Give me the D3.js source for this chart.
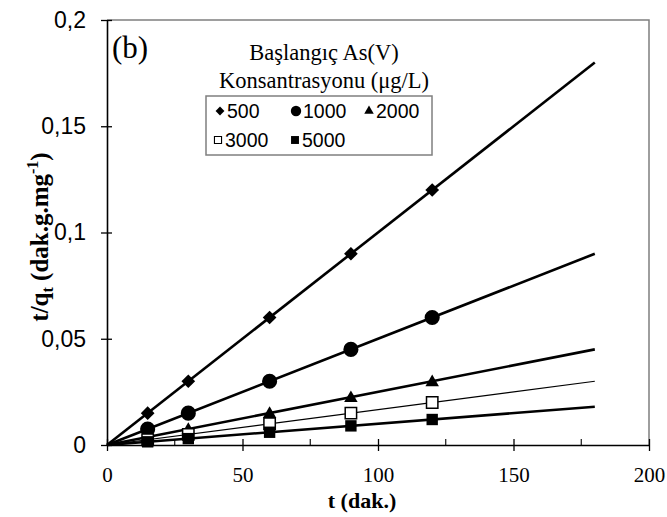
<!DOCTYPE html>
<html>
<head>
<meta charset="utf-8">
<script src="https://cdn.jsdelivr.net/npm/d3@7"></script>
<style>
  html, body { margin: 0; padding: 0; background: #fff; }
  svg { display: block; }
</style>
</head>
<body>
<svg id="chart" width="667" height="517"></svg>
<script>
// Pseudo-second-order kinetics: t/qt versus t for each initial As(V) concentration
const times = [15, 30, 60, 90, 120];
const lineEnd = 180;
const series = ["500", "1000", "2000", "3000", "5000"];
const values500 = [0.015, 0.03, 0.06, 0.09, 0.12];
const values1000 = [0.0075, 0.015, 0.03, 0.045, 0.06];
const values2000 = [0.00375, 0.0075, 0.015, 0.0225, 0.03];
const values3000 = [0.0025, 0.005, 0.01, 0.015, 0.02];
const values5000 = [0.0015, 0.003, 0.006, 0.009, 0.012];
// fitted line values at t = 180
const fitEnd = [0.18, 0.09, 0.045, 0.03, 0.018];
const xTicks = [0, 50, 100, 150, 200];
const xMinorTicks = [25, 75, 125, 175];
const yTicks = [0, 0.05, 0.1, 0.15, 0.2];
const yTickLabels = ["0", "0,05", "0,1", "0,15", "0,2"];

const allValues = [values500, values1000, values2000, values3000, values5000];
const markers = ["diamond", "circle", "triangle", "openSquare", "square"];
const lineWidths = [2.6, 2.6, 2.6, 1.2, 2.6];

const svg = d3.select("#chart");
const plotLeft = 107, plotRight = 649, plotTop = 20, plotBottom = 445;

const x = d3.scaleLinear().domain([0, 200]).range([plotLeft, plotRight]);
const y = d3.scaleLinear().domain([0, 0.2]).range([plotBottom, plotTop]);

// frame (top and right)
svg.append("path")
  .attr("d", `M${plotLeft},${plotTop}H${plotRight}V${plotBottom}`)
  .attr("fill", "none").attr("stroke", "#7f7f7f").attr("stroke-width", 1.5);

function symbolPath(kind) {
  if (kind === "diamond") return d3.symbol().type(d3.symbolDiamond2).size(120)();
  if (kind === "circle") return d3.symbol().type(d3.symbolCircle).size(180)();
  if (kind === "triangle") return d3.symbol().type(d3.symbolTriangle2).size(130)();
  return d3.symbol().type(d3.symbolSquare2).size(165)();
}

const plot = svg.append("g");
allValues.forEach((vals, i) => {
  const g = plot.append("g");
  g.append("line")
    .attr("x1", x(0)).attr("y1", y(0))
    .attr("x2", x(lineEnd)).attr("y2", y(fitEnd[i]))
    .attr("stroke", "#000").attr("stroke-width", lineWidths[i]);
  const kind = markers[i];
  g.selectAll("path.m").data(vals).join("path")
    .attr("class", "m")
    .attr("d", symbolPath(kind))
    .attr("transform", (d, j) => {
      const dy = kind === "triangle" ? 1 : 0;
      return `translate(${x(times[j])},${y(d) + dy})`;
    })
    .attr("fill", kind === "openSquare" ? "#fff" : "#000")
    .attr("stroke", "#000")
    .attr("stroke-width", kind === "openSquare" ? 1.5 : 0);
});

// axes
const xAxisG = svg.append("g").attr("transform", `translate(0,${plotBottom})`);
xAxisG.call(d3.axisBottom(x).tickValues(xTicks).tickSize(6).tickFormat(d3.format("d")).tickSizeOuter(0));
xAxisG.select(".domain").attr("stroke", "#000").attr("stroke-width", 1.6);
xAxisG.selectAll(".tick line").attr("y1", -6).attr("y2", 6).attr("stroke-width", 1.3);
xAxisG.selectAll(".tick text")
  .attr("y", 22).attr("dy", "0.71em")
  .attr("font-family", "'Liberation Serif', 'Times New Roman', serif")
  .attr("font-size", 21).attr("fill", "#000");
xAxisG.selectAll(".minor").data(xMinorTicks).join("line")
  .attr("class", "minor")
  .attr("x1", d => x(d)).attr("x2", d => x(d))
  .attr("y1", 0).attr("y2", -6)
  .attr("stroke", "#000").attr("stroke-width", 1.1);

const yAxisG = svg.append("g").attr("transform", `translate(${plotLeft},0)`);
yAxisG.call(d3.axisLeft(y).tickValues(yTicks).tickSize(6)
  .tickFormat((d, i) => yTickLabels[i]).tickSizeOuter(0));
yAxisG.select(".domain").attr("stroke", "#000").attr("stroke-width", 1.6);
yAxisG.selectAll(".tick line").attr("x1", -6).attr("x2", 5).attr("stroke-width", 1.3);
yAxisG.selectAll(".tick text")
  .attr("x", -21)
  .attr("font-family", "'Liberation Sans', Arial, sans-serif")
  .attr("font-size", 23).attr("fill", "#000");

// axis titles
svg.append("text")
  .attr("x", 362).attr("y", 508)
  .attr("text-anchor", "middle")
  .attr("font-family", "'Liberation Serif', 'Times New Roman', serif")
  .attr("font-weight", "bold").attr("font-size", 22)
  .text("t (dak.)");

const yTitle = svg.append("text")
  .attr("transform", "translate(48,237) rotate(-90)")
  .attr("text-anchor", "middle")
  .attr("font-family", "'Liberation Serif', 'Times New Roman', serif")
  .attr("font-weight", "bold").attr("font-size", 25);
yTitle.append("tspan").text("t/q");
yTitle.append("tspan").attr("font-size", 16).attr("dy", 5).text("t");
yTitle.append("tspan").attr("dy", -5).text(" (dak.g.mg");
yTitle.append("tspan").attr("font-size", 16).attr("dy", -10).text("-1");
yTitle.append("tspan").attr("dy", 10).text(")");

// panel label
svg.append("text")
  .attr("x", 112).attr("y", 58)
  .attr("font-family", "'Liberation Serif', 'Times New Roman', serif")
  .attr("font-size", 31)
  .text("(b)");

// legend
const legendTitle = ["Başlangıç As(V)", "Konsantrasyonu (μg/L)"];
svg.selectAll("text.lt").data(legendTitle).join("text")
  .attr("class", "lt")
  .attr("x", 324).attr("y", (d, i) => 60 + i * 28)
  .attr("text-anchor", "middle")
  .attr("font-family", "'Liberation Serif', 'Times New Roman', serif")
  .attr("font-size", 22.5)
  .text(d => d);

svg.append("rect")
  .attr("x", 206).attr("y", 96).attr("width", 226).attr("height", 59)
  .attr("fill", "#fff").attr("stroke", "#7f7f7f").attr("stroke-width", 1.5);

const legendPos = [[220, 111], [296, 111], [369, 111], [218, 140], [295, 140]];
const legendSym = {
  diamond: d3.symbol().type(d3.symbolDiamond2).size(50)(),
  circle: d3.symbol().type(d3.symbolCircle).size(85)(),
  triangle: d3.symbol().type(d3.symbolTriangle2).size(65)(),
  openSquare: d3.symbol().type(d3.symbolSquare2).size(64)(),
  square: d3.symbol().type(d3.symbolSquare2).size(80)()
};
series.forEach((s, i) => {
  const [lx, ly] = legendPos[i];
  const kind = markers[i];
  svg.append("path")
    .attr("d", legendSym[kind])
    .attr("transform", `translate(${lx},${ly})`)
    .attr("fill", kind === "openSquare" ? "#fff" : "#000")
    .attr("stroke", "#000")
    .attr("stroke-width", kind === "openSquare" ? 1.1 : 0);
  svg.append("text")
    .attr("x", lx + 7).attr("y", ly + 7)
    .attr("font-family", "'Liberation Sans', Arial, sans-serif")
    .attr("font-size", 19.5)
    .text(s);
});
</script>
</body>
</html>
